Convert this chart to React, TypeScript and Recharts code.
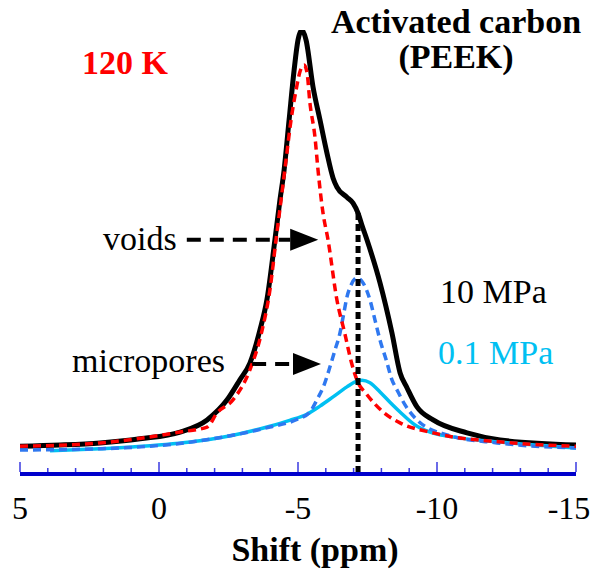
import { LineChart, Line, XAxis, YAxis, ReferenceLine, ReferenceDot } from 'recharts';

// [shift (ppm), intensity]
const black10MPa: [number, number][] = [
  [5.0, 0.004], [3.56, 0.007], [2.12, 0.012], [0.68, 0.022], [-0.76, 0.038], [-1.73, 0.067],
  [-2.45, 0.115], [-2.91, 0.163], [-3.27, 0.203], [-3.63, 0.282], [-3.88, 0.354], [-4.17, 0.498],
  [-4.35, 0.593], [-4.5, 0.665], [-4.68, 0.785], [-4.86, 0.904], [-5.0, 0.976], [-5.14, 1.0],
  [-5.29, 0.976], [-5.54, 0.864], [-5.79, 0.785], [-6.04, 0.706], [-6.26, 0.646], [-6.4, 0.624],
  [-6.76, 0.6], [-6.98, 0.586], [-7.16, 0.562], [-7.3, 0.533], [-7.48, 0.498], [-7.95, 0.395],
  [-8.38, 0.275], [-8.67, 0.18], [-8.92, 0.144], [-9.28, 0.098], [-9.86, 0.067], [-11.08, 0.036],
  [-12.27, 0.019], [-15.0, 0.007],
];

const voidsFit: [number, number][] = [
  [5.0, 0.004], [2.12, 0.012], [-0.76, 0.038], [-1.73, 0.05], [-2.09, 0.084], [-2.66, 0.115],
  [-3.27, 0.187], [-3.71, 0.282], [-3.99, 0.378], [-4.21, 0.498], [-4.39, 0.593], [-4.57, 0.689],
  [-4.75, 0.785], [-4.93, 0.856], [-5.07, 0.9], [-5.22, 0.916], [-5.32, 0.9], [-5.43, 0.825],
  [-5.61, 0.744], [-5.72, 0.665], [-5.9, 0.562], [-6.08, 0.498], [-6.4, 0.354], [-6.68, 0.275],
  [-6.92, 0.205], [-7.15, 0.158], [-7.45, 0.13], [-8.06, 0.086], [-8.67, 0.06], [-9.86, 0.036],
  [-12.73, 0.012], [-15.0, 0.004],
];

const microporesFit: [number, number][] = [
  [5.0, -0.005], [2.12, -0.002], [-1.47, 0.017], [-3.99, 0.05], [-4.96, 0.068], [-5.43, 0.086],
  [-5.68, 0.115], [-5.94, 0.151], [-6.15, 0.194], [-6.33, 0.234], [-6.51, 0.275], [-6.65, 0.323],
  [-6.76, 0.361], [-6.91, 0.39], [-7.12, 0.407], [-7.34, 0.395], [-7.59, 0.354], [-7.77, 0.306],
  [-7.95, 0.258], [-8.17, 0.211], [-8.38, 0.163], [-8.56, 0.139], [-8.85, 0.103], [-9.28, 0.067],
  [-10.36, 0.031], [-12.16, 0.012], [-15.0, 0.0],
];

const cyan01MPa: [number, number][] = [
  [3.92, -0.007], [2.12, -0.002], [0.32, 0.005], [-1.47, 0.017], [-2.91, 0.034], [-3.99, 0.052],
  [-4.7, 0.066], [-5.3, 0.08], [-5.79, 0.1], [-6.26, 0.122], [-6.76, 0.146], [-7.05, 0.158],
  [-7.3, 0.162], [-7.59, 0.156], [-7.95, 0.134], [-8.3, 0.11], [-8.67, 0.086], [-9.21, 0.055],
  [-9.75, 0.038], [-10.5, 0.027], [-12.27, 0.014], [-15.0, 0.0],
];

const shiftTicks = [5, 4, 3, 2, 1, 0, -1, -2, -3, -4, -5, -6, -7, -8, -9, -10, -11, -12, -13, -14, -15];

const markerShift = -7.16;
const markerTop = 0.562;
const voidsArrow = { from: -1.0, to: -4.72, level: 0.498 };
const microArrow = { from: -3.35, to: -4.82, level: 0.201 };

const yMin = -0.0624;
const serif = 'Liberation Serif, Times New Roman, Times, serif';

const toPoints = (arr: [number, number][]) => arr.map(([x, y]) => ({ x, y }));

function ShiftTick(props: any) {
  const { x, y, payload } = props;
  const v = payload.value as number;
  const major = v % 5 === 0;
  const dx = v === -15 ? -7 : 0;
  return (
    <g>
      <line x1={x} x2={x} y1={y - 2} y2={y - (major ? 12 : 6)} stroke="#3a3ae0" strokeWidth={1.5} />
      {major && (
        <text x={x + dx} y={y + 45} textAnchor="middle" style={{ fontFamily: serif, fontSize: 32 }} fill="#000">
          {v}
        </text>
      )}
    </g>
  );
}

function ArrowHead(props: any) {
  const { cx, cy } = props;
  return <polygon points={`${cx},${cy - 11} ${cx + 28},${cy} ${cx},${cy + 11}`} fill="#000" />;
}

const txt = (weight: string) => ({ fontFamily: serif, fontSize: 34, fontWeight: weight as any });

export default function App() {
  return (
    <div style={{ position: 'absolute', left: 0, top: 0, width: 596, height: 571, background: '#fff' }}>
      <LineChart width={596} height={571} margin={{ top: 30, right: 20, left: 20, bottom: 0 }}>
        <XAxis
          dataKey="x"
          type="number"
          domain={[-15, 5]}
          reversed
          ticks={shiftTicks}
          interval={0}
          tick={<ShiftTick />}
          tickLine={false}
          tickSize={0}
          tickMargin={0}
          height={97}
          axisLine={{ stroke: '#0000cc', strokeWidth: 4 }}
          allowDataOverflow
        />
        <YAxis hide type="number" domain={[yMin, 1]} allowDataOverflow />
        <Line data={toPoints(black10MPa)} dataKey="y" type="monotone" stroke="#000" strokeWidth={5} dot={false} isAnimationActive={false} />
        <Line data={toPoints(cyan01MPa)} dataKey="y" type="monotone" stroke="#00c0f2" strokeWidth={3.5} dot={false} isAnimationActive={false} />
        <Line data={toPoints(microporesFit)} dataKey="y" type="monotone" stroke="#2f78f0" strokeWidth={3.5} strokeDasharray="8 5" dot={false} isAnimationActive={false} />
        <Line data={toPoints(voidsFit)} dataKey="y" type="monotone" stroke="#ff0000" strokeWidth={3.5} strokeDasharray="8 5" dot={false} isAnimationActive={false} />
        <ReferenceLine
          segment={[{ x: markerShift, y: markerTop }, { x: markerShift, y: yMin }]}
          stroke="#000"
          strokeWidth={5}
          strokeDasharray="7 4"
        />
        <ReferenceLine
          segment={[{ x: voidsArrow.from, y: voidsArrow.level }, { x: voidsArrow.to, y: voidsArrow.level }]}
          stroke="#000"
          strokeWidth={4}
          strokeDasharray="14 9"
        />
        <ReferenceDot x={voidsArrow.to} y={voidsArrow.level} r={0} shape={<ArrowHead />} />
        <ReferenceLine
          segment={[{ x: microArrow.from, y: microArrow.level }, { x: microArrow.to, y: microArrow.level }]}
          stroke="#000"
          strokeWidth={4}
          strokeDasharray="14 9"
        />
        <ReferenceDot x={microArrow.to} y={microArrow.level} r={0} shape={<ArrowHead />} />
      </LineChart>
      <svg width={596} height={571} style={{ position: 'absolute', left: 0, top: 0, pointerEvents: 'none' }}>
        <text x={82} y={74} fill="#ff0000" style={txt('bold')}>120 K</text>
        <text x={456} y={33} textAnchor="middle" fill="#000" style={txt('bold')}>Activated carbon</text>
        <text x={456} y={68} textAnchor="middle" fill="#000" style={txt('bold')}>(PEEK)</text>
        <text x={103} y={250} fill="#000" style={txt('normal')}>voids</text>
        <text x={72} y={372} fill="#000" style={txt('normal')}>micropores</text>
        <text x={440} y={303} fill="#000" style={txt('normal')}>10 MPa</text>
        <text x={438} y={364} fill="#00c0f2" style={txt('normal')}>0.1 MPa</text>
        <text x={315} y={561} textAnchor="middle" fill="#000" style={txt('bold')}>Shift (ppm)</text>
      </svg>
    </div>
  );
}
